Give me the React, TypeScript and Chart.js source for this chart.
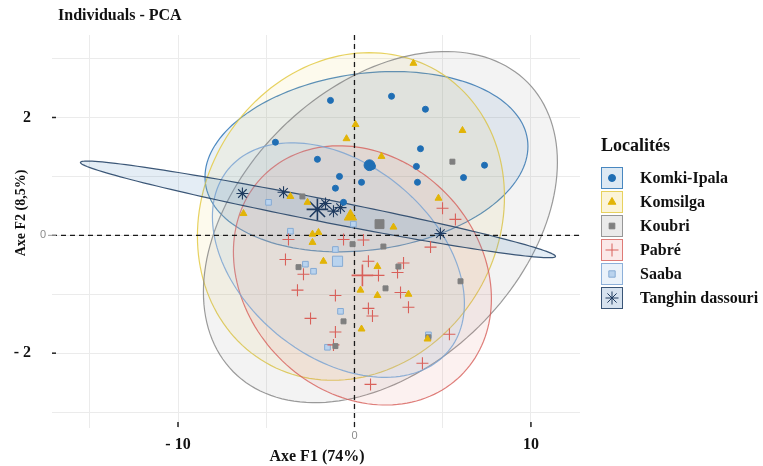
import React, { useEffect, useRef } from 'react';
import { Chart, registerables } from 'chart.js';
import { drawPoint } from 'chart.js/helpers';

Chart.register(...registerables);

// ---------- data ----------
const groupNames = ['Komki-Ipala', 'Komsilga', 'Koubri', 'Pabré', 'Saaba', 'Tanghin dassouri'];

const komkiX = [-1.36, 2.1, 4.02, 3.74, 3.51, 7.37, 6.18, 3.57, 1.02, -2.1, -0.85, -1.08, 0.4, -4.48, -0.62];
const komkiY = [2.29, 2.36, 2.14, 1.47, 1.17, 1.19, 0.98, 0.9, 1.17, 1.29, 1.0, 0.8, 0.9, 1.58, 0.56];

const komsilgaX = [3.34, 6.12, 0.06, -0.45, 1.53, 4.76, 2.21, -6.29, -3.63, -2.66, -2.38, -2.38, -2.04, -1.76, 0.34, 1.3, 3.06, 1.3, 0.4, 4.14];
const komsilgaY = [2.92, 1.78, 1.88, 1.64, 1.34, 0.63, 0.14, 0.37, 0.66, 0.56, 0.02, -0.12, 0.05, -0.44, -0.93, -1.02, -1.0, -0.53, -1.59, -1.76];

const koubriX = [5.55, 1.64, 2.49, 1.76, 6.01, -0.62, -1.08, 4.19, -2.95, -3.17, -0.11];
const koubriY = [1.25, -0.19, -0.53, -0.9, -0.78, -1.46, -1.88, -1.73, 0.66, -0.54, -0.15];

const pabreX = [-3.74, -3.91, -2.89, -3.23, -1.08, -2.49, -1.08, -1.19, -0.62, 0.51, 0.79, 1.36, 2.44, 2.78, 2.61, 3.06, 0.79, 1.02, 4.31, 4.99, 5.72, 5.38, 3.85, 0.91];
const pabreY = [-0.07, -0.41, -0.66, -0.93, -1.02, -1.41, -1.64, -1.86, -0.07, -0.08, -0.44, -0.68, -0.63, -0.47, -0.97, -1.22, -1.24, -1.37, -0.2, 0.46, 0.27, -1.68, -2.17, -2.53];

const saabaX = [-4.87, -3.63, -1.08, -2.78, -2.32, -0.79, -1.53, 4.19, -0.06];
const saabaY = [0.56, 0.07, -0.24, -0.49, -0.61, -1.29, -1.9, -1.69, 0.19];

const tanghinX = [-6.35, -4.02, -1.64, -1.19, -0.79, 4.87];
const tanghinY = [0.71, 0.73, 0.54, 0.41, 0.47, 0.03];

// group centroids (large markers)
const meanX = [0.85, -0.23, 1.42, 0.45, -0.96, -2.1];
const meanY = [1.19, 0.32, 0.19, -0.68, -0.44, 0.44];

// confidence ellipses: centre, half-width (F1), half-height (F2), correlation
const ellCx = [0.68, -0.2, 1.47, 0.45, -0.91, -2.07];
const ellCy = [1.25, 0.32, 0.14, -0.68, -0.42, 0.44];
const ellHw = [9.15, 8.7, 10.03, 7.31, 7.14, 13.46];
const ellHh = [1.53, 2.78, 2.98, 2.2, 1.99, 0.82];
const ellRho = [0.17, 0.12, 0.37, -0.18, -0.37, -0.971];

const xTickLabels = [-10, 10];
const yTickLabels = [-2, 2];

// ---------- styles ----------
const SERIF = "'Liberation Serif', 'DejaVu Serif', serif";
const pointColors = ['#1f6eb4', '#e2b407', '#7f7f7f', '#d9605a', '#b9d3ee', '#1e3a5f'];
const pointBorders = ['#1f6eb4', '#e2b407', '#7f7f7f', '#d9605a', '#86abd4', '#1e3a5f'];
const pointStyles = ['circle', 'triangle', 'rect', 'cross', 'rect', 'star'];
const pointRadii = [3, 4, 3.5, 6, 4, 6];
const ellStroke = [
  'rgba(46,117,182,0.85)',
  'rgba(228,205,80,0.9)',
  'rgba(130,130,130,0.8)',
  'rgba(215,95,90,0.8)',
  'rgba(125,165,210,0.85)',
  'rgba(40,70,105,0.9)',
];
const ellFill = [
  'rgba(46,117,182,0.10)',
  'rgba(235,205,80,0.10)',
  'rgba(140,140,140,0.10)',
  'rgba(230,120,110,0.10)',
  'rgba(150,190,230,0.12)',
  'rgba(90,140,190,0.16)',
];
const legendFill = [
  'rgba(46,117,182,0.16)',
  'rgba(235,205,80,0.22)',
  'rgba(140,140,140,0.18)',
  'rgba(230,120,110,0.16)',
  'rgba(150,190,230,0.2)',
  'rgba(90,140,190,0.25)',
];

const seriesX = [komkiX, komsilgaX, koubriX, pabreX, saabaX, tanghinX];
const seriesY = [komkiY, komsilgaY, koubriY, pabreY, saabaY, tanghinY];

const pcaPlugin = {
  id: 'pcaDecor',
  beforeDatasetsDraw(chart: any) {
    const { ctx, chartArea, scales } = chart;
    const xs = scales.x;
    const ys = scales.y;
    ctx.save();
    ctx.beginPath();
    ctx.rect(chartArea.left, chartArea.top, chartArea.right - chartArea.left, chartArea.bottom - chartArea.top);
    ctx.clip();
    for (let g = 0; g < groupNames.length; g++) {
      const n = 160;
      const s = Math.sqrt(1 - ellRho[g] * ellRho[g]);
      ctx.beginPath();
      for (let i = 0; i <= n; i++) {
        const t = (i / n) * Math.PI * 2;
        const vx = ellCx[g] + ellHw[g] * Math.cos(t);
        const vy = ellCy[g] + ellHh[g] * (ellRho[g] * Math.cos(t) + s * Math.sin(t));
        const px = xs.getPixelForValue(vx);
        const py = ys.getPixelForValue(vy);
        if (i === 0) ctx.moveTo(px, py);
        else ctx.lineTo(px, py);
      }
      ctx.closePath();
      ctx.fillStyle = ellFill[g];
      ctx.fill();
      ctx.strokeStyle = ellStroke[g];
      ctx.lineWidth = 1.2;
      ctx.stroke();
    }
    ctx.restore();

    // dashed reference lines
    ctx.save();
    ctx.strokeStyle = '#1a1a1a';
    ctx.lineWidth = 1.3;
    ctx.setLineDash([5, 4]);
    const x0 = xs.getPixelForValue(0);
    const y0 = ys.getPixelForValue(0);
    ctx.beginPath();
    ctx.moveTo(x0, chartArea.top);
    ctx.lineTo(x0, chartArea.bottom);
    ctx.stroke();
    ctx.beginPath();
    ctx.moveTo(chartArea.left, y0);
    ctx.lineTo(chartArea.right, y0);
    ctx.stroke();
    ctx.restore();
  },
  afterDraw(chart: any) {
    const { ctx, chartArea, scales } = chart;
    const xs = scales.x;
    const ys = scales.y;
    ctx.save();

    // title
    ctx.fillStyle = '#111';
    ctx.font = `bold 16px ${SERIF}`;
    ctx.textAlign = 'left';
    ctx.textBaseline = 'middle';
    ctx.fillText('Individuals - PCA', 58, 16);

    // axis titles
    ctx.font = `bold 16px ${SERIF}`;
    ctx.textAlign = 'center';
    ctx.fillText('Axe F1 (74%)', 317, 457);
    ctx.save();
    ctx.translate(21, 213);
    ctx.rotate(-Math.PI / 2);
    ctx.font = `bold 14px ${SERIF}`;
    ctx.fillText('Axe F2 (8,5%)', 0, 0);
    ctx.restore();

    // tick marks
    ctx.strokeStyle = '#222';
    ctx.lineWidth = 1.5;
    for (const v of xTickLabels) {
      const px = xs.getPixelForValue(v);
      ctx.beginPath();
      ctx.moveTo(px, chartArea.bottom - 6);
      ctx.lineTo(px, chartArea.bottom - 1);
      ctx.stroke();
    }
    for (const v of yTickLabels) {
      const py = ys.getPixelForValue(v);
      ctx.beginPath();
      ctx.moveTo(chartArea.left, py);
      ctx.lineTo(chartArea.left + 4, py);
      ctx.stroke();
    }
    // original grey zero labels
    ctx.strokeStyle = '#9a9a9a';
    ctx.lineWidth = 1;
    const y0 = ys.getPixelForValue(0);
    ctx.beginPath();
    ctx.moveTo(chartArea.left - 4, y0);
    ctx.lineTo(chartArea.left + 4, y0);
    ctx.stroke();
    ctx.fillStyle = '#8c8c8c';
    ctx.font = "11px 'Liberation Sans', sans-serif";
    ctx.textAlign = 'right';
    ctx.textBaseline = 'middle';
    ctx.fillText('0', chartArea.left - 6, y0);
    ctx.textAlign = 'center';
    ctx.textBaseline = 'top';
    ctx.fillText('0', xs.getPixelForValue(0), chartArea.bottom + 2);

    // legend
    ctx.fillStyle = '#111';
    ctx.textAlign = 'left';
    ctx.textBaseline = 'middle';
    ctx.font = `bold 18px ${SERIF}`;
    ctx.fillText('Localités', 601, 146);
    ctx.font = `bold 16px ${SERIF}`;
    const rowY = [178, 202, 226, 250, 274, 298];
    for (let g = 0; g < groupNames.length; g++) {
      const cy = rowY[g];
      const bx = 601;
      const size = 22;
      ctx.fillStyle = '#ffffff';
      ctx.fillRect(bx, cy - size / 2, size, size);
      ctx.fillStyle = legendFill[g];
      ctx.fillRect(bx, cy - size / 2, size, size);
      ctx.strokeStyle = ellStroke[g];
      ctx.lineWidth = 1;
      ctx.strokeRect(bx + 0.5, cy - size / 2 + 0.5, size - 1, size - 1);
      ctx.fillStyle = pointColors[g];
      ctx.strokeStyle = pointBorders[g];
      ctx.lineWidth = 1;
      drawPoint(ctx, { pointStyle: pointStyles[g], radius: pointRadii[g] + 0.5, rotation: 0, borderWidth: 1 } as any, bx + size / 2, cy);
      ctx.fillStyle = '#111';
      ctx.fillText(groupNames[g], 640, cy + 1);
    }
    ctx.restore();
  },
};

export default function App() {
  const ref = useRef<HTMLCanvasElement | null>(null);

  useEffect(() => {
    if (!ref.current) return;
    const datasets: any[] = [];
    for (let g = 0; g < groupNames.length; g++) {
      datasets.push({
        label: groupNames[g],
        data: seriesX[g].map((v, i) => ({ x: v, y: seriesY[g][i] })),
        pointStyle: pointStyles[g],
        pointRadius: pointRadii[g],
        backgroundColor: pointColors[g],
        borderColor: pointBorders[g],
        borderWidth: g === 3 || g === 5 ? 1.1 : 1,
      });
    }
    for (let g = 0; g < groupNames.length; g++) {
      datasets.push({
        label: groupNames[g] + ' (moyenne)',
        data: [{ x: meanX[g], y: meanY[g] }],
        pointStyle: pointStyles[g],
        pointRadius: pointRadii[g] * 1.8,
        backgroundColor: pointColors[g],
        borderColor: pointBorders[g],
        borderWidth: g === 3 || g === 5 ? 1.6 : 1,
      });
    }

    const chart = new Chart(ref.current, {
      type: 'scatter',
      data: { datasets },
      options: {
        animation: false,
        responsive: true,
        maintainAspectRatio: false,
        layout: { padding: { top: 35, right: 183, left: 0, bottom: 0 } },
        plugins: {
          legend: { display: false },
          tooltip: { enabled: false },
          title: { display: false },
        },
        scales: {
          x: {
            type: 'linear',
            min: -17.14,
            max: 12.78,
            afterFit: (s: any) => { s.height = 38; },
            border: { display: false },
            grid: { color: '#ebebeb', lineWidth: 1, drawTicks: false },
            ticks: {
              stepSize: 5,
              includeBounds: false,
              padding: 7,
              color: '#111',
              font: { family: SERIF, size: 16, weight: 'bold' },
              callback: (v: any) => (xTickLabels.includes(v) ? (v < 0 ? '- ' + Math.abs(v) : String(v)) : ''),
              maxRotation: 0,
              autoSkip: false,
            },
          },
          y: {
            type: 'linear',
            min: -3.27,
            max: 3.4,
            afterFit: (s: any) => { s.width = 52; },
            border: { display: false },
            grid: { color: '#ebebeb', lineWidth: 1, drawTicks: false },
            ticks: {
              stepSize: 1,
              includeBounds: false,
              padding: 21,
              color: '#111',
              font: { family: SERIF, size: 16, weight: 'bold' },
              callback: (v: any) => (yTickLabels.includes(v) ? (v < 0 ? '- ' + Math.abs(v) : String(v)) : ''),
              autoSkip: false,
            },
          },
        },
      } as any,
      plugins: [pcaPlugin],
    });
    return () => chart.destroy();
  }, []);

  return (
    <div style={{ position: 'absolute', left: 0, top: 0, width: 763, height: 466, background: '#fff' }}>
      <canvas ref={ref} />
    </div>
  );
}
